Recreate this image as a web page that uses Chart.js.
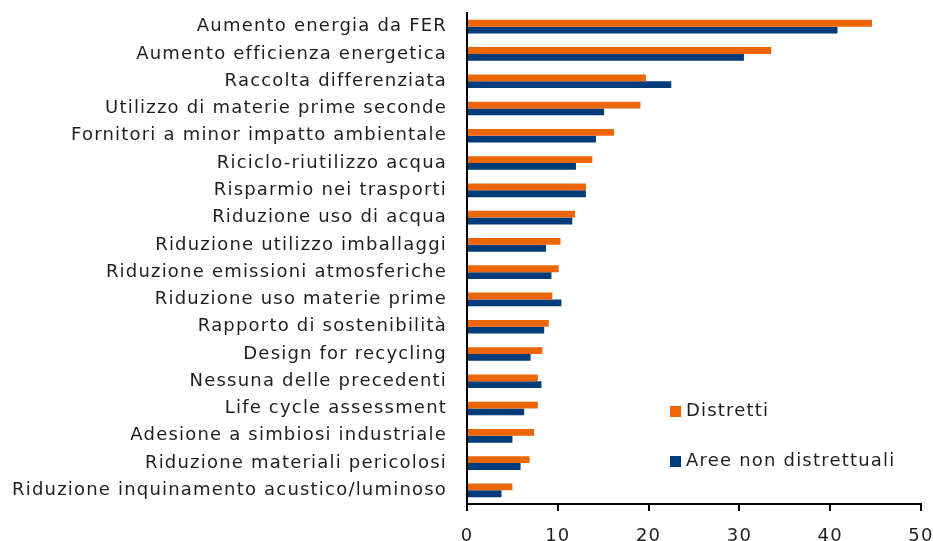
<!DOCTYPE html>
<html>
<head>
<meta charset="utf-8">
<script src="https://cdn.jsdelivr.net/npm/chart.js@4"></script>
<style>
  html, body { margin: 0; padding: 0; background: #fff; }
  #wrap { width: 933px; height: 541px; position: relative; }
</style>
</head>
<body>
<div id="wrap"><canvas id="myChart"></canvas></div>
<script>
const categories = [
    'Aumento energia da FER',
    'Aumento efficienza energetica',
    'Raccolta differenziata',
    'Utilizzo di materie prime seconde',
    'Fornitori a minor impatto ambientale',
    'Riciclo-riutilizzo acqua',
    'Risparmio nei trasporti',
    'Riduzione uso di acqua',
    'Riduzione utilizzo imballaggi',
    'Riduzione emissioni atmosferiche',
    'Riduzione uso materie prime',
    'Rapporto di sostenibilità',
    'Design for recycling',
    'Nessuna delle precedenti',
    'Life cycle assessment',
    'Adesione a simbiosi industriale',
    'Riduzione materiali pericolosi',
    'Riduzione inquinamento acustico/luminoso'
];
const distretti = [44.6, 33.5, 19.7, 19.1, 16.2, 13.8, 13.1, 11.9, 10.3, 10.1, 9.4, 9.0, 8.3, 7.8, 7.8, 7.4, 6.9, 5.0];
const areeNonDistrettuali = [40.8, 30.5, 22.5, 15.1, 14.2, 12.0, 13.1, 11.6, 8.7, 9.3, 10.4, 8.5, 7.0, 8.2, 6.3, 5.0, 5.9, 3.8];
const seriesNames = ['Distretti', 'Aree non distrettuali'];
const xTicks = [0, 10, 20, 30, 40, 50];

const ORANGE = '#EC6605';
const BLUE = '#003B7A';
const FONT = 'DejaVu Sans';
const SPACING = '1.2px';

// wider letter spacing to get closer to the original typeface
const spacing = {
    id: 'spacing',
    beforeDraw(chart) { chart.ctx.letterSpacing = SPACING; },
    afterDraw(chart) { chart.ctx.letterSpacing = '0px'; }
};

// legend drawn inside the plot, bottom right
const insideLegend = {
    id: 'insideLegend',
    afterDraw(chart) {
        const ctx = chart.ctx;
        const items = [
            { text: seriesNames[0], color: ORANGE, y: 411 },
            { text: seriesNames[1], color: BLUE, y: 461 }
        ];
        ctx.save();
        ctx.letterSpacing = SPACING;
        ctx.font = '18px ' + FONT;
        ctx.textBaseline = 'middle';
        ctx.textAlign = 'left';
        items.forEach(it => {
            ctx.fillStyle = it.color;
            ctx.fillRect(670, it.y - 5, 11, 11);
            ctx.fillStyle = '#1e1e1e';
            ctx.fillText(it.text, 686, it.y);
        });
        ctx.restore();
    }
};

function makeChart() {
    const ctx = document.getElementById('myChart');
    new Chart(ctx, {
        type: 'bar',
        data: {
            labels: categories,
            datasets: [{
                label: seriesNames[0],
                data: distretti,
                backgroundColor: ORANGE,
                categoryPercentage: 0.5,
                barPercentage: 1
            }, {
                label: seriesNames[1],
                data: areeNonDistrettuali,
                backgroundColor: BLUE,
                categoryPercentage: 0.5,
                barPercentage: 1
            }]
        },
        options: {
            indexAxis: 'y',
            responsive: false,
            animation: false,
            layout: { padding: { top: 13, right: 12, bottom: 0, left: 0 } },
            plugins: {
                legend: { display: false },
                tooltip: { enabled: false }
            },
            scales: {
                x: {
                    min: 0,
                    max: 50,
                    afterBuildTicks(scale) {
                        scale.ticks = xTicks.map(v => ({ value: v }));
                    },
                    afterFit(scale) {
                        scale.height = 37;
                        scale.paddingLeft = 0;
                        scale.paddingRight = 0;
                    },
                    grid: {
                        display: true,
                        drawOnChartArea: false,
                        drawTicks: true,
                        tickLength: 7,
                        color: '#000',
                        lineWidth: 2
                    },
                    border: { display: true, color: '#000', width: 2 },
                    ticks: {
                        color: '#1e1e1e',
                        padding: 15,
                        maxRotation: 0,
                        font: { family: FONT, size: 18 }
                    }
                },
                y: {
                    afterFit(scale) {
                        scale.width = 467;
                        scale.paddingTop = 0;
                        scale.paddingBottom = 0;
                    },
                    grid: { display: false, drawTicks: false },
                    border: { display: true, color: '#000', width: 2 },
                    ticks: {
                        color: '#1e1e1e',
                        padding: 20,
                        autoSkip: false,
                        font: { family: FONT, size: 18 }
                    }
                }
            }
        },
        plugins: [spacing, insideLegend]
    });
}

const cv = document.getElementById('myChart');
cv.width = 933;
cv.height = 541;
makeChart();
</script>
</body>
</html>
